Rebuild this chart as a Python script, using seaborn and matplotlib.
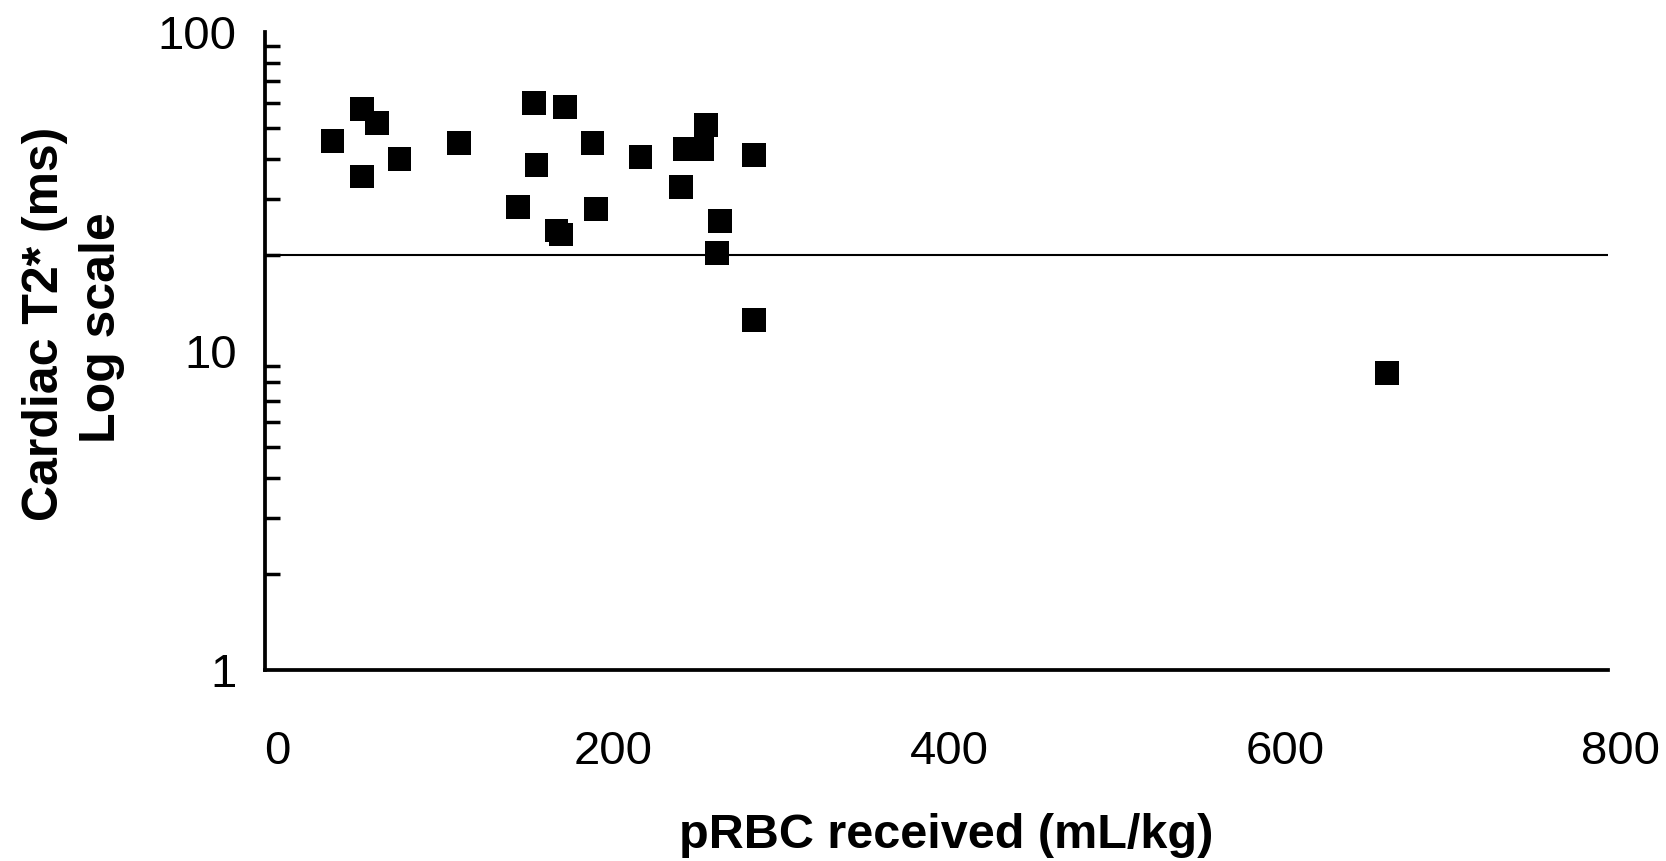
import matplotlib
matplotlib.use("Agg")
import matplotlib.pyplot as plt
import matplotlib.ticker as mticker
import matplotlib.transforms as mtransforms
import seaborn as sns
import pandas as pd

# pRBC received (mL/kg) vs cardiac T2* (ms)
prbc = [40.5, 58.2, 67.0, 58.2, 80.3, 115.7, 160.6, 179.0, 161.9, 151.1,
        195.4, 197.3, 173.9, 176.4, 223.9, 247.9, 250.4, 260.5, 263.1, 271.3,
        269.4, 291.5, 291.5, 668.4]
t2star = [45.6, 57.4, 51.9, 35.2, 40.0, 44.9, 59.9, 58.2, 38.3, 28.3,
          44.9, 27.9, 23.9, 23.2, 40.6, 32.7, 43.0, 43.0, 51.1, 25.6,
          20.3, 41.2, 12.5, 8.56]
threshold = 20
x_ticks = [0, 200, 400, 600, 800]
y_ticks = [1, 10, 100]

df = pd.DataFrame({"prbc": prbc, "t2": t2star})

sns.set_style("white")
plt.rcParams["font.family"] = ["Liberation Sans", "DejaVu Sans"]
plt.rcParams["text.color"] = "black"

fig = plt.figure(figsize=(16.66, 8.61), dpi=100)
ax = fig.add_axes([0.1588, 0.2213, 0.9650 - 0.1588, 0.963 - 0.2213])

sns.scatterplot(data=df, x="prbc", y="t2", marker="s", color="black",
                s=290, edgecolor="none", linewidth=0, ax=ax, zorder=3)
ax.axhline(threshold, color="black", linewidth=1.5, zorder=2)

ax.set_yscale("log")
ax.set_xlim(0, 800)
ax.set_ylim(1, 100)
ax.set_xticks(x_ticks)
ax.set_xticklabels([str(t) for t in x_ticks])
ax.set_yticks(y_ticks)
ax.set_yticklabels([str(t) for t in y_ticks])
ax.yaxis.set_minor_locator(mticker.LogLocator(base=10, subs=range(2, 10)))
ax.yaxis.set_minor_formatter(mticker.NullFormatter())

for side in ["top", "right"]:
    ax.spines[side].set_visible(False)
for side in ["left", "bottom"]:
    ax.spines[side].set_linewidth(2.7)
    ax.spines[side].set_color("black")

ax.tick_params(axis="x", which="major", direction="in", length=15, width=1.8,
               labelsize=34, pad=43, colors="black")
ax.tick_params(axis="y", which="major", direction="in", length=16, width=2.5,
               labelsize=34, pad=20, colors="black")
ax.tick_params(axis="y", which="minor", direction="in", length=11, width=2.5,
               left=True, colors="black")

# x tick labels sit a little to the right of their ticks
shift = mtransforms.ScaledTranslation(13 / 100, 0, fig.dpi_scale_trans)
for lab in ax.get_xticklabels():
    lab.set_transform(lab.get_transform() + shift)

ax.set_xlabel("")
ax.set_ylabel("")
fig.text(0.568, 0.003, "pRBC received (mL/kg)", ha="center", va="bottom",
         fontsize=35, fontweight="bold", color="black")
fig.text(0.027, 0.624, "Cardiac T2* (ms)", ha="center", va="center",
         rotation=90, fontsize=36, fontweight="bold", color="black")
fig.text(0.061, 0.620, "Log scale", ha="center", va="center",
         rotation=90, fontsize=36, fontweight="bold", color="black")

fig.savefig("out.png", dpi=100, facecolor="white")
